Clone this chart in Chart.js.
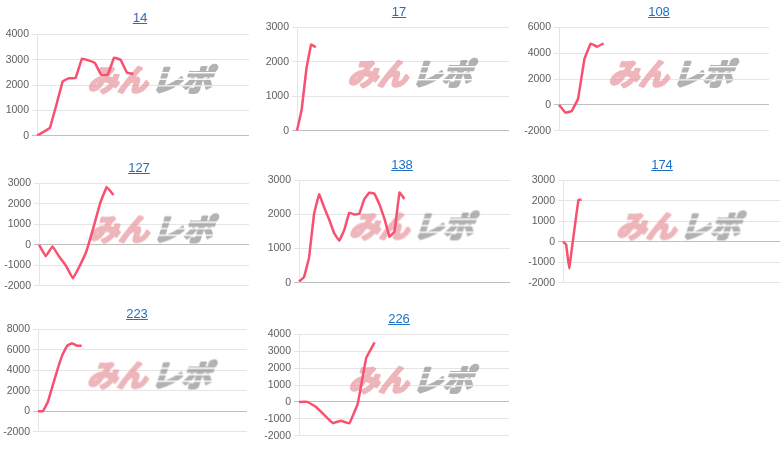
<!DOCTYPE html>
<html>
<head>
<meta charset="utf-8">
<script src="https://cdn.jsdelivr.net/npm/chart.js@4.4.0/dist/chart.umd.min.js"></script>
<style>
  body { margin: 0; background: #fff; width: 780px; height: 453px; overflow: hidden; position: relative; }
  canvas { position: absolute; }
  a.ttl { position: absolute; font: 13px "Liberation Sans", Arial, sans-serif; color: #1f6fc5; text-decoration: underline; line-height: 15px; transform: translateX(-50%); white-space: nowrap; }
</style>
</head>
<body>
<script>
// machine numbers (chart titles)
const machines = ['14', '17', '108', '127', '138', '174', '223', '226'];

// profit series per machine
const profit14 = [0, 150, 310, 1200, 2140, 2270, 2270, 3040, 2970, 2870, 2400, 2400, 3080, 3000, 2490, 2440];
const profit17 = [0, 620, 1800, 2500, 2420];
const profit108 = [0, -600, -480, 480, 3550, 4750, 4500, 4750];
const profit127 = [0, -560, -80, -590, -1040, -1645, -1040, -320, 800, 2000, 2830, 2430];
const profit138 = [30, 165, 734, 2020, 2590, 2210, 1850, 1450, 1230, 1540, 2050, 2000, 2020, 2450, 2640, 2610, 2300, 1880, 1350, 1500, 2640, 2450];
const profit174 = [0, -130, -1300, -170, 960, 2050, 2050];
const profit223 = [0, 0, 870, 2470, 4060, 5480, 6390, 6640, 6400, 6400];
const profit226 = [0, 0, -290, -770, -1250, -1120, -1270, -100, 2600, 3520];

// number of x slots on each chart
const slots = [34, 46, 34, 32, 43, 71, 44, 26];

// y axis ranges [min, max, step]
const yRanges = [[0, 4000, 1000], [0, 3000, 1000], [-2000, 6000, 2000], [-2000, 3000, 1000],
                 [0, 3000, 1000], [-2000, 3000, 1000], [-2000, 8000, 2000], [-2000, 4000, 1000]];

const series = [profit14, profit17, profit108, profit127, profit138, profit174, profit223, profit226];

// canvas boxes [left, top, width, height] and title centre [x, y]
const boxes = [[1, 25, 248, 120], [261, 18, 248, 122], [523, 18, 246, 122], [3, 174, 246, 121],
               [263, 171, 247, 121], [527, 171, 253, 121], [2, 320, 245, 121], [263, 325, 246, 120]];
const titlePos = [[140, 18], [399, 12], [659, 12], [139, 168], [402, 165], [662, 165], [137, 314], [399, 319]];

// logo image drawn once (opaque, faded when placed), speed-line gaps cut out
const logo = document.createElement('canvas');
logo.width = 150; logo.height = 40;
(() => {
  const c = logo.getContext('2d');
  c.translate(75, 21);
  c.transform(1, 0, -0.32, 1, 0, 0);
  c.font = 'bold 30px "Noto Sans CJK JP"';
  c.textBaseline = 'middle';
  c.lineJoin = 'round';
  c.lineWidth = 2.6;
  c.textAlign = 'right';
  c.fillStyle = c.strokeStyle = '#e6939b';
  c.fillText('みん', -1, 0);
  c.strokeText('みん', -1, 0);
  c.textAlign = 'left';
  c.fillStyle = c.strokeStyle = '#8e8e8e';
  c.fillText('レポ', 3, 0);
  c.strokeText('レポ', 3, 0);
  c.setTransform(1, 0, 0, 1, 0, 0);
  c.globalCompositeOperation = 'destination-out';
  c.fillStyle = '#000';
  [13, 19.5, 26].forEach(y => c.fillRect(80, y, 70, 1.4));
})();

const watermark = {
  id: 'watermark',
  beforeDatasetsDraw(chart) {
    const a = chart.chartArea;
    const ctx = chart.ctx;
    ctx.save();
    ctx.globalAlpha = 0.68;
    ctx.drawImage(logo, (a.left + a.right) / 2 + 9 - 75, (a.top + a.bottom) / 2 - 5 - 21);
    ctx.restore();
  }
};

machines.forEach((name, i) => {
  const [l, t, w, h] = boxes[i];
  const cv = document.createElement('canvas');
  cv.width = w; cv.height = h;
  cv.style.left = l + 'px'; cv.style.top = t + 'px';
  document.body.appendChild(cv);

  const a = document.createElement('a');
  a.className = 'ttl';
  a.href = '#';
  a.textContent = name;
  a.style.left = titlePos[i][0] + 'px';
  a.style.top = (titlePos[i][1] - 8) + 'px';
  document.body.appendChild(a);

  const [ymin, ymax, ystep] = yRanges[i];
  new Chart(cv.getContext('2d'), {
    type: 'line',
    data: {
      labels: Array.from({ length: slots[i] }, (_, k) => k + 1),
      datasets: [{
        data: series[i],
        borderColor: '#f8506f',
        borderWidth: 2.5,
        pointRadius: 0,
        fill: false,
        tension: 0.05
      }]
    },
    options: {
      responsive: false,
      animation: false,
      layout: { padding: { top: 8, bottom: 8, left: 0, right: 0 } },
      plugins: { legend: { display: false }, tooltip: { enabled: false } },
      scales: {
        x: { display: false },
        y: {
          min: ymin, max: ymax,
          afterFit: s => { s.width = 36; },
          ticks: {
            stepSize: ystep, color: '#606060', padding: 3,
            font: { size: 10.5, family: '"Liberation Sans", Arial' },
            callback: v => String(v)
          },
          grid: {
            tickLength: 5,
            color: c => (c.tick && c.tick.value === 0) ? 'rgba(0,0,0,0.25)' : 'rgba(0,0,0,0.1)'
          },
          border: { color: 'rgba(0,0,0,0.1)' }
        }
      }
    },
    plugins: [watermark]
  });
});
</script>
</body>
</html>
